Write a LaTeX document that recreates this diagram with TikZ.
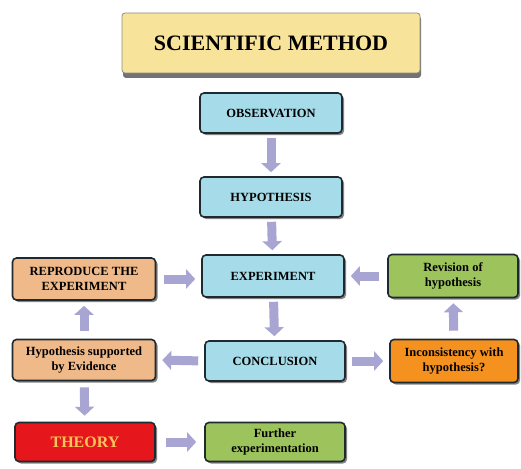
\documentclass[tikz,border=0pt]{standalone}
\usepackage{fontspec}
\setmainfont{Liberation Serif}
\usetikzlibrary{shadows,arrows.meta}
\definecolor{cblue}{HTML}{A6DCE9}
\definecolor{ctan}{HTML}{EFB98A}
\definecolor{cgreen}{HTML}{9DC35C}
\definecolor{corange}{HTML}{F5911E}
\definecolor{cred}{HTML}{E5161C}
\definecolor{ctheory}{HTML}{F6C65A}
\definecolor{cborder}{HTML}{1E2A30}
\definecolor{ctitle}{HTML}{F8E39A}
\definecolor{carrow}{HTML}{A9A5D2}
\tikzset{
  box/.style={draw=cborder, line width=1.6pt, rounded corners=4pt, align=center,
    font=\bfseries\fontsize{12.5}{14.5}\selectfont, inner sep=2pt,
    drop shadow={shadow xshift=2pt, shadow yshift=-2pt, fill=black!60, opacity=0.8}},
  bluebox/.style={box, fill=cblue, minimum width=142pt, minimum height=40pt},
  tanbox/.style={box, fill=ctan, minimum width=143pt, minimum height=41pt},
  greenbox/.style={box, fill=cgreen, minimum width=130pt, minimum height=41pt},
  blockarrow/.style={draw=carrow, line width=9pt, -{Triangle[width=19pt,length=9pt]}},
}
\begin{document}
\begin{tikzpicture}[x=1pt,y=-1pt]
\useasboundingbox (0,0) rectangle (521,468);
\fill[white] (0,0) rectangle (521,468);
% title
\fill[black!55, rounded corners=3pt] (123,16) rectangle (421,78);
\node[draw=black!45, line width=0.8pt, fill=ctitle, rounded corners=3pt, minimum width=298pt, minimum height=60pt,
  font=\bfseries\fontsize{22}{24}\selectfont] (title) at (271,43) {SCIENTIFIC METHOD};
% centre column
\node[bluebox] (obs) at (271,113) {OBSERVATION};
\node[bluebox] (hyp) at (271,197) {HYPOTHESIS};
\node[bluebox, minimum height=42pt] (exp) at (273,276) {EXPERIMENT};
\node[bluebox, minimum width=140pt] (con) at (275,361) {CONCLUSION};
% left column
\node[tanbox, minimum height=42pt] (rep) at (84,279) {REPRODUCE THE\\EXPERIMENT};
\node[tanbox] (sup) at (84,360) {Hypothesis supported\\by Evidence};
\node[box, fill=cred, text=ctheory, minimum width=140pt, minimum height=39pt,
  font=\bfseries\fontsize{16}{18}\selectfont] (the) at (85,442) {THEORY};
% right column
\node[greenbox, minimum height=43pt] (rev) at (453,276) {Revision of\\hypothesis};
\node[box, fill=corange, minimum width=128pt, minimum height=43pt] (inc) at (454,361) {Inconsistency with\\hypothesis?};
\node[greenbox, minimum width=140pt, minimum height=39pt] (fur) at (275,442) {Further\\experimentation};
% arrows
\draw[blockarrow, shorten <=4pt, shorten >=4pt] (obs) -- (hyp);
\draw[blockarrow, shorten <=4pt, shorten >=4pt] (hyp) -- (exp);
\draw[blockarrow, shorten <=4pt, shorten >=4pt] (exp) -- (con);
\draw[blockarrow, shorten <=6pt, shorten >=6pt] (con.west) -- (sup.east);
\draw[blockarrow, shorten <=6pt, shorten >=6pt] (con.east) -- (inc.west);
\draw[blockarrow, shorten <=8pt, shorten >=5pt] (inc) -- (rev);
\draw[blockarrow, shorten <=8pt, shorten >=6pt] (rev.west) -- (exp.east);
\draw[blockarrow, shorten <=8pt, shorten >=5pt] (sup) -- (rep);
\draw[blockarrow, shorten <=8pt, shorten >=6pt] (rep.east) -- (exp.west |- rep.east);
\draw[blockarrow, shorten <=6pt, shorten >=6pt] (sup) -- (the);
\draw[blockarrow, shorten <=10pt, shorten >=8pt] (the.east) -- (fur.west);
\end{tikzpicture}
\end{document}
